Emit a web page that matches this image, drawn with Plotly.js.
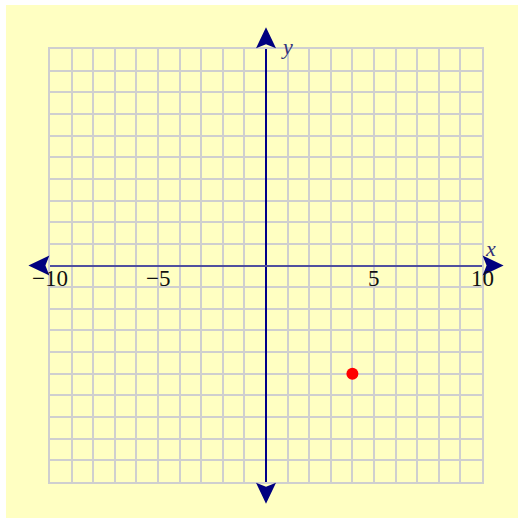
<!DOCTYPE html>
<html>
<head>
<meta charset="utf-8">
<script src="https://cdn.plot.ly/plotly-3.0.1.min.js"></script>
<style>html,body{margin:0;padding:0;background:#fff;}#chart{width:519px;height:520px;}</style>
</head>
<body>
<div id="chart"></div>
<script>
// Data
const pointX = [4];
const pointY = [-5];
const xRange = [-10, 10];
const yRange = [-10, 10];
const xTickVals = [-10, -5, 5, 10];
const xTickText = ['\u221210', '\u22125', '5', '10'];
const arrowReach = 11;

const bg = '#ffffc2';
const gridColor = '#cfcfcf';
const arrowColor = '#00007f';
const serif = 'Liberation Serif, Times New Roman, serif';

function px(v) { return (v - xRange[0]) / (xRange[1] - xRange[0]); }
function py(v) { return (v - yRange[0]) / (yRange[1] - yRange[0]); }

const annotations = xTickVals.map((v, i) => ({
  x: v, y: 0, xref: 'x', yref: 'y', text: xTickText[i], showarrow: false,
  xanchor: 'center', yanchor: 'middle', yshift: -13,
  font: {family: serif, size: 23, color: '#111'}
}));
annotations.push({x: 1.037, y: 0.54, xref: 'paper', yref: 'paper', text: '<i>x</i>', showarrow: false,
  font: {family: serif, size: 22, color: '#33337a'}});
annotations.push({x: 0.549, y: 1.039, xref: 'paper', yref: 'paper', text: '<i>y</i>', showarrow: false,
  font: {family: serif, size: 22, color: '#33337a'}});

function arrowShape(xa, ya, path) {
  return {type: 'path', xref: 'paper', yref: 'paper', xsizemode: 'pixel', ysizemode: 'pixel',
    xanchor: px(xa), yanchor: py(ya), path: path, fillcolor: arrowColor, line: {width: 0}, layer: 'above'};
}

const shapes = [
  {type: 'rect', xref: 'paper', yref: 'paper', x0: -0.1019, x1: 1.0833, y0: -0.0831, y1: 1.1016,
   fillcolor: bg, line: {width: 0}, layer: 'below'},
  arrowShape(arrowReach, 0, 'M0,0 L-21,10 L-17,0 L-21,-10 Z'),
  arrowShape(-arrowReach, 0, 'M0,0 L21,10 L17,0 L21,-10 Z'),
  arrowShape(0, arrowReach, 'M0,0 L10,-21 L0,-17 L-10,-21 Z'),
  arrowShape(0, -arrowReach, 'M0,0 L10,21 L0,17 L-10,21 Z')
];

const trace = {x: pointX, y: pointY, type: 'scatter', mode: 'markers',
  marker: {color: '#ff0000', size: 12}, cliponaxis: false, hoverinfo: 'skip'};

const axisCommon = {dtick: 1, tick0: 0, showgrid: true, gridcolor: gridColor, gridwidth: 2,
  showline: true, linecolor: gridColor, linewidth: 2, mirror: true, showticklabels: false,
  ticks: '', fixedrange: true};

const layout = {
  width: 519, height: 520,
  margin: {l: 50, r: 37, t: 49, b: 38},
  paper_bgcolor: '#ffffff', plot_bgcolor: 'rgba(0,0,0,0)',
  showlegend: false,
  xaxis: Object.assign({}, axisCommon, {range: xRange, zeroline: true, zerolinecolor: '#00008a', zerolinewidth: 2}),
  yaxis: Object.assign({}, axisCommon, {range: yRange, zeroline: true, zerolinecolor: '#50509e', zerolinewidth: 2}),
  shapes: shapes,
  annotations: annotations
};

Plotly.newPlot('chart', [trace], layout, {displayModeBar: false, staticPlot: true});
</script>
</body>
</html>
